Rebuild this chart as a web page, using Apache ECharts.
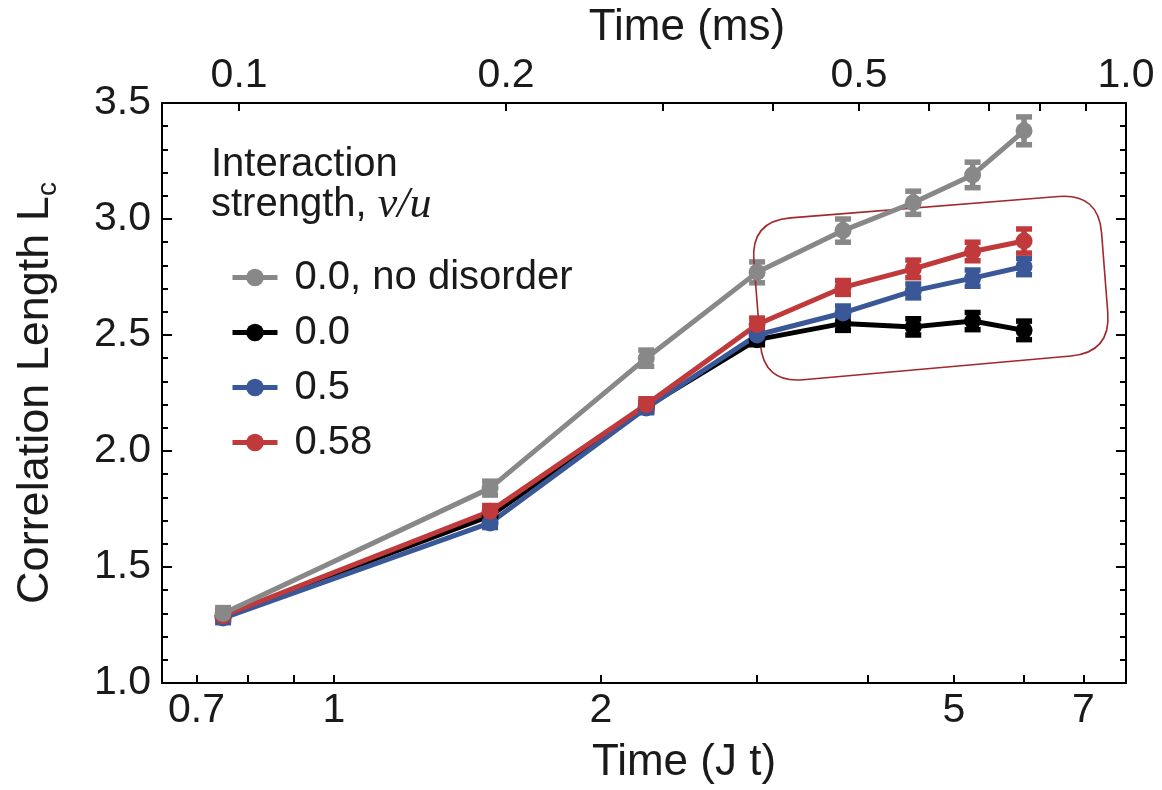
<!DOCTYPE html>
<html><head><meta charset="utf-8">
<script src="https://cdn.jsdelivr.net/npm/echarts@6/dist/echarts.min.js"></script>
<style>html,body{margin:0;padding:0;background:#fff}#c{width:1162px;height:790px}</style>
</head><body><div id="c"></div>
<script>
// ---- data ----
const times = [0.75, 1.5, 2.25, 3.0, 3.75, 4.5, 5.25, 6.0]; // J t
const seriesNames = ['0.0, no disorder', '0.0', '0.5', '0.58'];
const grayVals  = [1.30, 1.84, 2.40, 2.77, 2.95, 3.07, 3.19, 3.38];
const grayErr   = [0.025, 0.03, 0.035, 0.045, 0.05, 0.05, 0.055, 0.06];
const blackVals = [1.29, 1.72, 2.19, 2.48, 2.55, 2.535, 2.56, 2.52];
const blackErr  = [0.02, 0.02, 0.02, 0.022, 0.03, 0.035, 0.037, 0.04];
const blueVals  = [1.28, 1.69, 2.185, 2.50, 2.595, 2.69, 2.745, 2.795];
const blueErr   = [0.02, 0.02, 0.02, 0.022, 0.03, 0.03, 0.035, 0.035];
const redVals   = [1.29, 1.74, 2.20, 2.545, 2.705, 2.785, 2.86, 2.905];
const redErr    = [0.02, 0.025, 0.025, 0.028, 0.03, 0.038, 0.04, 0.052];
const jtTicks  = [0.7, 0.8, 0.9, 1, 2, 3, 4, 5, 6, 7];
const jtLabels = [0.7, 1, 2, 5, 7];
const msTicks  = [0.1, 0.2, 0.3, 0.4, 0.5, 0.6, 0.7, 0.8, 0.9, 1.0];
const msLabels = [0.1, 0.2, 0.5, 1.0];
const yTicks = { min: 1.0, max: 3.5, step: 0.5 };
const J_PER_MS = 7.818;          // J t per millisecond
const X_MIN = 0.640, X_MAX = 7.818;
const boxCorners = [[2.951, 2.991], [7.279, 3.111], [7.517, 2.425], [3.050, 2.292]];

// ---- styles ----
const FONT = 'Liberation Sans, Arial, Helvetica, sans-serif';
const TXT = '#1a1a1a';
const COLORS = { gray: '#888888', black: '#000000', blue: '#3a5897', red: '#c0393b' };
const lg = Math.log10;

function errSeries(vals, errs, color) {
  return {
    type: 'custom', silent: true, xAxisIndex: 0, yAxisIndex: 0,
    data: times.map((t, i) => [lg(t), vals[i] - errs[i], vals[i] + errs[i]]),
    encode: { x: 0, y: [1, 2] },
    renderItem: (params, api) => {
      const x = api.value(0);
      const pLo = api.coord([x, api.value(1)]);
      const pHi = api.coord([x, api.value(2)]);
      const hw = 8;
      const st = { stroke: color, lineWidth: 5.5 };
      return { type: 'group', children: [
        { type: 'line', shape: { x1: pLo[0], y1: pLo[1], x2: pHi[0], y2: pHi[1] }, style: st },
        { type: 'line', shape: { x1: pLo[0] - hw, y1: pLo[1], x2: pLo[0] + hw, y2: pLo[1] }, style: st },
        { type: 'line', shape: { x1: pHi[0] - hw, y1: pHi[1], x2: pHi[0] + hw, y2: pHi[1] }, style: st }
      ]};
    }
  };
}
function lineSeries(name, vals, color) {
  return {
    type: 'line', name: name, xAxisIndex: 0, yAxisIndex: 0,
    data: times.map((t, i) => [lg(t), vals[i]]),
    symbol: 'circle', symbolSize: 17, showSymbol: true,
    itemStyle: { color: color },
    lineStyle: { color: color, width: 5 },
    emphasis: { disabled: true }, animation: false
  };
}
function toward(p, q, r) {
  const dx = q[0] - p[0], dy = q[1] - p[1];
  const d = Math.sqrt(dx * dx + dy * dy);
  return [p[0] + dx / d * r, p[1] + dy / d * r];
}
function roundedPath(pts, r) {
  const n = pts.length; let d = '';
  for (let i = 0; i < n; i++) {
    const p0 = pts[(i - 1 + n) % n], p1 = pts[i], p2 = pts[(i + 1) % n];
    const a = toward(p1, p0, r), b = toward(p1, p2, r);
    d += (i === 0 ? 'M' : 'L') + a[0] + ' ' + a[1] + ' Q' + p1[0] + ' ' + p1[1] + ' ' + b[0] + ' ' + b[1] + ' ';
  }
  return d + 'Z';
}

const xCommon = {
  type: 'value', min: lg(X_MIN), max: lg(X_MAX),
  splitLine: { show: false },
  axisLine: { show: true, onZero: false, lineStyle: { color: '#000', width: 2 } }
};
const yCommon = {
  type: 'value', min: yTicks.min, max: yTicks.max, interval: yTicks.step,
  splitLine: { show: false }, minorSplitLine: { show: false },
  axisLine: { show: true, onZero: false, lineStyle: { color: '#000', width: 2 } },
  axisTick: { show: true, inside: true, length: 10, lineStyle: { color: '#000', width: 2 } },
  minorTick: { show: true, splitNumber: 5, length: 6, lineStyle: { color: '#000', width: 2 } }
};

const option = {
  animation: false,
  backgroundColor: '#ffffff',
  textStyle: { fontFamily: FONT },
  grid: { left: 162, right: 36, top: 103, bottom: 107, containLabel: false },
  title: {
    text: 'Interaction\nstrength, {m|v/u}',
    left: 206, top: 140,
    textStyle: {
      fontFamily: FONT, fontSize: 40, lineHeight: 40, fontWeight: 'normal', color: TXT,
      rich: { m: { fontFamily: 'Liberation Serif, DejaVu Serif, serif', fontStyle: 'italic', fontSize: 44, lineHeight: 40, color: TXT } }
    }
  },
  legend: {
    data: seriesNames, orient: 'vertical', left: 225, top: 252,
    itemWidth: 45, itemHeight: 22, itemGap: 14, selectedMode: false,
    lineStyle: { width: 5 },
    textStyle: { fontFamily: FONT, fontSize: 40, lineHeight: 41, color: TXT, padding: [0, 0, 0, 12] }
  },
  xAxis: [
    Object.assign({}, xCommon, {
      position: 'bottom',
      name: 'Time (J t)', nameLocation: 'middle', nameGap: 58,
      nameTextStyle: { fontFamily: FONT, fontSize: 44, color: TXT, padding: [0, 0, 0, 80] },
      axisTick: { show: true, inside: true, length: 8, lineStyle: { color: '#000', width: 2 }, customValues: jtTicks.map(lg) },
      axisLabel: { show: true, customValues: jtLabels.map(lg), fontSize: 41, color: TXT, margin: 7,
        formatter: v => String(Math.round(Math.pow(10, v) * 10) / 10) }
    }),
    Object.assign({}, xCommon, {
      position: 'top',
      name: 'Time (ms)', nameLocation: 'middle', nameGap: 44,
      nameTextStyle: { fontFamily: FONT, fontSize: 44, color: TXT, padding: [0, 0, 0, 86] },
      axisTick: { show: true, inside: true, length: 8, lineStyle: { color: '#000', width: 2 }, customValues: msTicks.map(m => lg(m * J_PER_MS)) },
      axisLabel: { show: true, customValues: msLabels.map(m => lg(m * J_PER_MS)), fontSize: 41, color: TXT, margin: 7,
        formatter: v => (Math.pow(10, v) / J_PER_MS).toFixed(1) }
    })
  ],
  yAxis: [
    Object.assign({}, yCommon, {
      position: 'left',
      name: 'Correlation Length L{sub|c}', nameLocation: 'middle', nameGap: 100,
      nameTextStyle: { fontFamily: FONT, fontSize: 45, color: TXT, lineHeight: 52,
        rich: { sub: { fontFamily: FONT, fontSize: 28, color: TXT, verticalAlign: 'bottom', lineHeight: 32 } } },
      axisLabel: { show: true, fontSize: 41, color: TXT, margin: 11, formatter: v => v.toFixed(1) }
    }),
    Object.assign({}, yCommon, { position: 'right', axisLabel: { show: false } })
  ],
  series: [
    errSeries(blackVals, blackErr, COLORS.black),
    lineSeries(seriesNames[1], blackVals, COLORS.black),
    errSeries(blueVals, blueErr, COLORS.blue),
    lineSeries(seriesNames[2], blueVals, COLORS.blue),
    errSeries(redVals, redErr, COLORS.red),
    lineSeries(seriesNames[3], redVals, COLORS.red),
    errSeries(grayVals, grayErr, COLORS.gray),
    lineSeries(seriesNames[0], grayVals, COLORS.gray),
    {
      type: 'custom', silent: true, xAxisIndex: 0, yAxisIndex: 0,
      data: [[lg(boxCorners[0][0]), boxCorners[0][1]]],
      renderItem: (params, api) => {
        const pts = boxCorners.map(c => api.coord([lg(c[0]), c[1]]));
        return { type: 'path', shape: { pathData: roundedPath(pts, 40) },
          style: { fill: 'none', stroke: '#a2282c', lineWidth: 1.6 } };
      }
    }
  ]
};
const chart = echarts.init(document.getElementById('c'), null, { renderer: 'canvas' });
chart.setOption(option);
</script></body></html>
